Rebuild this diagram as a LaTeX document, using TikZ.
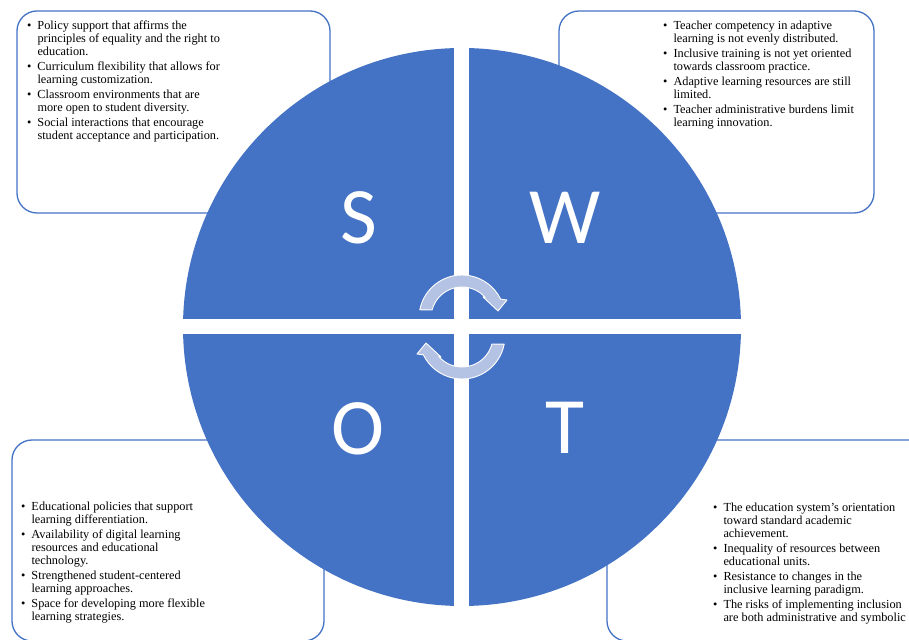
\documentclass[tikz,border=0pt]{standalone}
\usepackage{fontspec}
\setmainfont{Liberation Serif}
\newfontfamily\letterfont{Carlito}
\usetikzlibrary{calc}

\definecolor{swotblue}{HTML}{4472C4}
\definecolor{arrowfill}{HTML}{B4C2E3}

\tikzset{
  listbox/.style={draw=swotblue, line width=1.3pt, rounded corners=20pt},
  listtext/.style={anchor=north west, inner sep=0pt, font=\fontsize{12.3}{13}\selectfont},
  letter/.style={anchor=base, text=white, inner sep=0pt, font=\letterfont\fontsize{80}{80}\selectfont},
  quarter/.style={fill=swotblue},
  cycarrow/.style={fill=arrowfill, draw=white, line width=0.9pt, line join=round},
}

\newcommand{\bul}{\textbullet}

\begin{document}
\begin{tikzpicture}[x=1pt,y=1pt]
  \useasboundingbox (0,0) rectangle (909,639);
  \clip (0,0) rectangle (909,639);

  %% Boxes sitting behind the circle
  \draw[listbox] (17,426) rectangle (330,628);
  \draw[listbox] (559,426) rectangle (874,628);
  \draw[listbox] (12,-2) rectangle (324,199);
  \draw[listbox] (607,-2) rectangle (935,199);

  %% Circle cut in four quarters
  \coordinate (C) at (462,312);
  \begin{scope}
    \clip (C) circle (279);
    \fill[quarter] (150,320) rectangle (454,640);
    \fill[quarter] (469,320) rectangle (760,640);
    \fill[quarter] (150,-10) rectangle (454,305);
    \fill[quarter] (469,-10) rectangle (760,305);
  \end{scope}

  %% Letters
  \node[letter] (LS) at (359,395) {S};
  \node[letter] (LW) at (565,395) {W};
  \node[letter] (LO) at (358,184) {O};
  \node[letter] (LT) at (565,185) {T};

  %% Turning arrows in the middle
  \foreach \rot in {0,180}
  {
    \begin{scope}[rotate around={\rot:(462,312)}, shift={(462,321)}]
      \path[cycarrow] (169:43) arc[start angle=169, end angle=26, radius=43]
        -- (45,18) -- (36,7) -- (21,21) -- (41.5:31)
        arc[start angle=41.5, end angle=165, radius=31] -- cycle;
    \end{scope}
  }

  %% Lists
  \node[listtext] (TXTS) at (27,619) {\begin{tabular}{@{}l@{\hspace{6pt}}l@{}}
    \bul & Policy support that affirms the\\
         & principles of equality and the right to\\
         & education.\\[2pt]
    \bul & Curriculum flexibility that allows for\\
         & learning customization.\\[2pt]
    \bul & Classroom environments that are\\
         & more open to student diversity.\\[2pt]
    \bul & Social interactions that encourage\\
         & student acceptance and participation.
  \end{tabular}};

  \node[listtext] (TXTW) at (663,619) {\begin{tabular}{@{}l@{\hspace{6pt}}l@{}}
    \bul & Teacher competency in adaptive\\
         & learning is not evenly distributed.\\[2pt]
    \bul & Inclusive training is not yet oriented\\
         & towards classroom practice.\\[2pt]
    \bul & Adaptive learning resources are still\\
         & limited.\\[2pt]
    \bul & Teacher administrative burdens limit\\
         & learning innovation.
  \end{tabular}};

  \node[listtext] (TXTO) at (21,138) {\begin{tabular}{@{}l@{\hspace{6pt}}l@{}}
    \bul & Educational policies that support\\
         & learning differentiation.\\[2pt]
    \bul & Availability of digital learning\\
         & resources and educational\\
         & technology.\\[2pt]
    \bul & Strengthened student-centered\\
         & learning approaches.\\[2pt]
    \bul & Space for developing more flexible\\
         & learning strategies.
  \end{tabular}};

  \node[listtext] (TXTT) at (713,137) {\begin{tabular}{@{}l@{\hspace{6pt}}l@{}}
    \bul & The education system's orientation\\
         & toward standard academic\\
         & achievement.\\[2pt]
    \bul & Inequality of resources between\\
         & educational units.\\[2pt]
    \bul & Resistance to changes in the\\
         & inclusive learning paradigm.\\[2pt]
    \bul & The risks of implementing inclusion\\
         & are both administrative and symbolic
  \end{tabular}};
\end{tikzpicture}
\end{document}
